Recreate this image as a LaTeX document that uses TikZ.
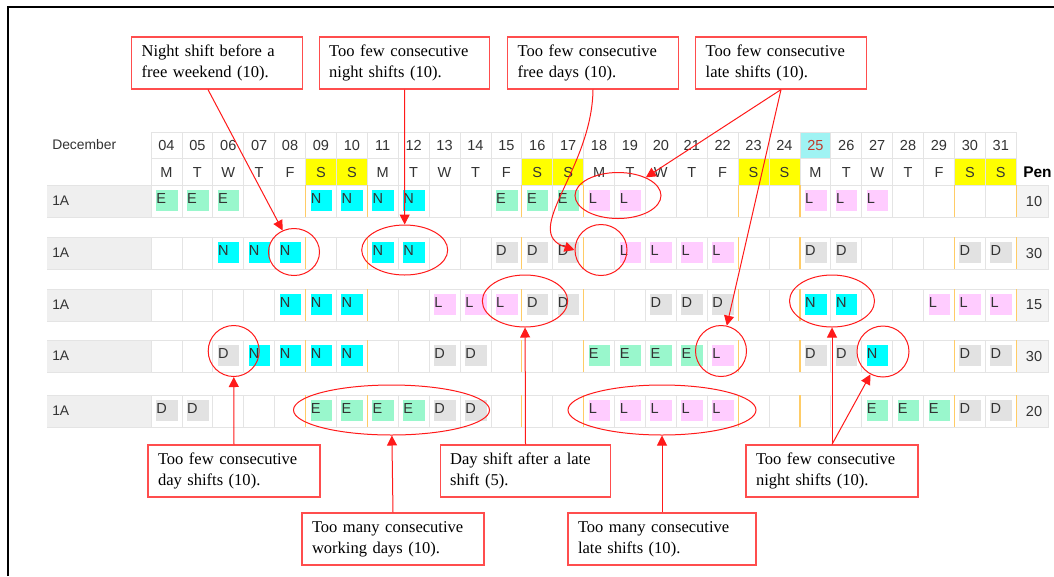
\documentclass[tikz,border=0pt]{standalone}
\usepackage{fontspec}
\setmainfont{Liberation Serif}
\setsansfont{Liberation Sans}
\usetikzlibrary{shapes.geometric,arrows.meta}
\definecolor{annred}{HTML}{FF1A1A}
\definecolor{boxred}{HTML}{FF4D4D}
\definecolor{cellgray}{HTML}{E4E4E4}
\definecolor{gridtext}{HTML}{333333}
\definecolor{labfill}{HTML}{EFEFEF}
\definecolor{penfill}{HTML}{F4F4F4}
\definecolor{sat}{HTML}{FFFF00}
\definecolor{xmas}{HTML}{9FF3F3}
\definecolor{xmastext}{HTML}{C0392B}
\definecolor{wkorange}{HTML}{FFCC66}
\definecolor{shE}{HTML}{99F7CC}
\definecolor{shN}{HTML}{00FFFF}
\definecolor{shL}{HTML}{FFCCFF}
\definecolor{shD}{HTML}{E2E2E2}
\newcommand\gridfont{\fontsize{10.9pt}{12pt}\selectfont\sffamily}
\newcommand\monthfont{\fontsize{10.4pt}{12pt}\selectfont\sffamily}
\newcommand\penfont{\fontsize{11.6pt}{12pt}\selectfont\sffamily\bfseries}
\newcommand\calloutfont{\fontsize{12.4pt}{15.75pt}\selectfont\rmfamily}
\newcommand\shiftrow[4]{%
  \fill[labfill] (47,#2) rectangle (151,#2+32);
  \draw[cellb] (47,#2) -- (151,#2) (47,#2+32) -- (151,#2+32);
  \node[gtext, font=\monthfont, anchor=west] (lab#1) at (52,#2+16) {1A};
  \foreach \k in {0,...,27} {
    \pgfmathsetmacro\xl{151+\k*30.9}
    \draw[cellb, fill=white] (\xl,#2) rectangle ++(30.9,32);
  }
  \draw[cellb, fill=penfill] (1016.2,#2) rectangle (1048,#2+32);
  \node[gtext] (pen#1) at (1034,#2+16) {#3};
  \foreach \k in {5,7,12,14,19,21,26,28} {
    \draw[wkline] (151+\k*30.9,#2) -- ++(0,32);
  }
  \foreach \k/\s in {#4} {
    \pgfmathsetmacro\xl{151+\k*30.9}
    \fill[fill=sh\s] (\xl+5,#2+4.5) rectangle (\xl+26.6,#2+26);
    \node[gtext, anchor=base west] (s#1-\k) at (\xl+5,#2+18.5) {\s};
  }
}
\begin{document}
\begin{tikzpicture}[x=0.75pt,y=-0.75pt,
  cellb/.style={draw=cellgray, line width=0.6pt},
  wkline/.style={draw=wkorange, line width=0.9pt},
  gtext/.style={font=\gridfont, text=gridtext, inner sep=0pt},
  callout/.style={draw=boxred, fill=white, line width=0.9pt, inner xsep=7.5pt,
    inner ysep=0pt, minimum height=39pt, text width=#1, align=left,
    font=\calloutfont, text=black},
  mark ring/.style={ellipse, draw=annred, line width=0.75pt, inner sep=0pt},
  annarrow/.style={draw=annred, line width=0.75pt,
    -{Triangle[length=7.5pt,width=7.5pt]}}]
\useasboundingbox (0,0) rectangle (1054,576);
\fill[white] (0,0) rectangle (1054,576);
\draw[line width=1.5pt] (8,576) -- (8,6.5) -- (1054,6.5);

% header
\node[gtext, font=\monthfont, anchor=west] (month) at (52,145) {December};
\foreach \d/\w/\wf/\df/\dc [count=\k from 0] in {
  04/M/white/white/gridtext, 05/T/white/white/gridtext, 06/W/white/white/gridtext,
  07/T/white/white/gridtext, 08/F/white/white/gridtext, 09/S/sat/white/gridtext,
  10/S/sat/white/gridtext, 11/M/white/white/gridtext, 12/T/white/white/gridtext,
  13/W/white/white/gridtext, 14/T/white/white/gridtext, 15/F/white/white/gridtext,
  16/S/sat/white/gridtext, 17/S/sat/white/gridtext, 18/M/white/white/gridtext,
  19/T/white/white/gridtext, 20/W/white/white/gridtext, 21/T/white/white/gridtext,
  22/F/white/white/gridtext, 23/S/sat/white/gridtext, 24/S/sat/white/gridtext,
  25/M/white/xmas/xmastext, 26/T/white/white/gridtext, 27/W/white/white/gridtext,
  28/T/white/white/gridtext, 29/F/white/white/gridtext, 30/S/sat/white/gridtext,
  31/S/sat/white/gridtext} {
  \pgfmathsetmacro\xl{151+\k*30.9}
  \draw[cellb, fill=\df] (\xl,132) rectangle ++(30.9,26);
  \draw[cellb, fill=\wf] (\xl,158) rectangle ++(30.9,27);
  \node[gtext, text=\dc] (hd\k) at (\xl+15.45,145.5) {\d};
  \node[gtext] (hw\k) at (\xl+15.45,172) {\w};
}
\node[gtext, anchor=west, font=\penfont, text=black] (penhead) at (1023,172) {Pen};

% data rows
\shiftrow{1}{185}{10}{0/E,1/E,2/E,5/N,6/N,7/N,8/N,11/E,12/E,13/E,14/L,15/L,21/L,22/L,23/L}
\shiftrow{2}{237}{30}{2/N,3/N,4/N,7/N,8/N,11/D,12/D,13/D,15/L,16/L,17/L,18/L,21/D,22/D,26/D,27/D}
\shiftrow{3}{289}{15}{4/N,5/N,6/N,9/L,10/L,11/L,12/D,13/D,16/D,17/D,18/D,21/N,22/N,25/L,26/L,27/L}
\shiftrow{4}{340}{30}{2/D,3/N,4/N,5/N,6/N,9/D,10/D,14/E,15/E,16/E,17/E,18/L,21/D,22/D,23/N,26/D,27/D}
\shiftrow{5}{395}{20}{0/D,1/D,5/E,6/E,7/E,8/E,9/D,10/D,14/L,15/L,16/L,17/L,18/L,23/E,24/E,25/E,26/D,27/D}

% rings
\node[mark ring, minimum width=38.25pt, minimum height=35.25pt] (c1) at (294,252) {};
\node[mark ring, minimum width=64.5pt, minimum height=37.5pt] (c2) at (404.7,250) {};
\node[mark ring, minimum width=39pt, minimum height=38.25pt] (c3) at (601,250) {};
\node[mark ring, minimum width=64.5pt, minimum height=34.5pt] (c4) at (618,195.5) {};
\node[mark ring, minimum width=38.25pt, minimum height=38.25pt] (c5) at (721,351) {};
\node[mark ring, minimum width=38.25pt, minimum height=38.25pt] (c6) at (233.7,351) {};
\node[mark ring, minimum width=147pt, minimum height=37.5pt] (c7) at (391.5,410) {};
\node[mark ring, minimum width=64pt, minimum height=39pt] (c8) at (525,301) {};
\node[mark ring, minimum width=141pt, minimum height=37.5pt] (c9) at (662,410) {};
\node[mark ring, minimum width=63.75pt, minimum height=39pt] (c10) at (832,301) {};
\node[mark ring, minimum width=39pt, minimum height=38.25pt] (c11) at (883,351.5) {};

% callouts
\node[callout=113pt] (b1) at (217,63) {Night shift before a\\free weekend (10).};
\node[callout=113pt] (b2) at (404.5,63) {Too few consecutive\\night shifts (10).};
\node[callout=113pt] (b3) at (593,63) {Too few consecutive\\free days (10).};
\node[callout=113pt] (b4) at (781,63) {Too few consecutive\\late shifts (10).};
\node[callout=114pt] (b5) at (234,471) {Too few consecutive\\day shifts (10).};
\node[callout=121.5pt] (b6) at (393,539) {Too many consecutive\\working days (10).};
\node[callout=113pt] (b7) at (525.5,471) {Day shift after a late\\shift (5).};
\node[callout=126pt] (b8) at (662,539) {Too many consecutive\\late shifts (10).};
\node[callout=114pt] (b9) at (832,471) {Too few consecutive\\night shifts (10).};

% connectors
\draw[annarrow] ([xshift=-6.75pt]b1.south) -- (c1);
\draw[annarrow] (b2.south) -- (c2);
\draw[annarrow] (b3.south) .. controls (592,170) and (520,232) .. (c3.west);
\draw[annarrow] (b4.south) -- (c4);
\draw[annarrow] (b4.south) -- (c5);
\draw[annarrow] (b5.north) -- (c6);
\draw[annarrow] (b6.north) -- (c7);
\draw[annarrow] (b7.north) -- (c8);
\draw[annarrow] (b8.north) -- (c9);
\draw[annarrow] (b9.north) -- (c10);
\draw[annarrow] (b9.north) -- (c11);
\end{tikzpicture}
\end{document}
